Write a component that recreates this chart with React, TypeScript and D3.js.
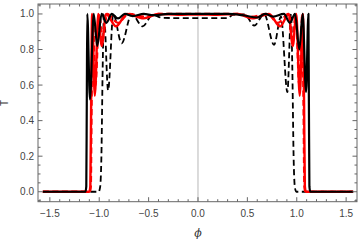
import React from 'react';
import * as d3 from 'd3';

type Pt = [number, number];

// black solid curve
const blackSolid: Pt[] = [
  [-1.571, 0], [-1.14, 0], [-1.131, 0.03], [-1.126, 0.5], [-1.121, 1.0], [-1.094, 0.52],
  [-1.056, 1.0], [-1.02, 0.82], [-0.976, 1.0], [-0.928, 0.95], [-0.872, 1.0], [-0.81, 0.975],
  [-0.74, 1.0], [-0.66, 0.988], [-0.55, 1.0], [-0.45, 0.993], [-0.3, 1.0], [0, 1.0],
  [0.3, 1.0], [0.45, 0.993], [0.6, 0.98], [0.68, 1.0], [0.76, 0.985], [0.87, 1.0],
  [0.93, 0.95], [0.983, 1.0], [1.026, 0.8], [1.06, 1.0], [1.094, 0.56], [1.118, 1.0],
  [1.123, 0.5], [1.128, 0.03], [1.137, 0], [1.571, 0],
];

// black dashed curve
const blackDashed: Pt[] = [
  [-1.571, 0], [-1.005, 0], [-0.99, 0.03], [-0.978, 0.2], [-0.965, 0.7], [-0.952, 1.0],
  [-0.91, 0.57], [-0.858, 1.0], [-0.773, 0.835], [-0.672, 1.0], [-0.56, 0.93], [-0.46, 0.995],
  [-0.36, 0.978], [0, 0.976], [0.3, 0.976], [0.35, 0.995], [0.47, 0.998], [0.57, 0.935],
  [0.67, 1.0], [0.77, 0.826], [0.84, 0.985], [0.905, 0.56], [0.942, 1.0], [0.955, 0.7],
  [0.968, 0.2], [0.98, 0.03], [0.995, 0], [1.571, 0],
];

// red solid curve
const redSolid: Pt[] = [
  [-1.571, 0], [-1.1, 0], [-1.09, 0.03], [-1.082, 0.5], [-1.072, 1.0], [-1.045, 0.54],
  [-1.01, 1.0], [-0.975, 0.82], [-0.93, 1.0], [-0.83, 0.93], [-0.72, 1.0], [-0.55, 0.975],
  [-0.4, 1.0], [-0.2, 0.995], [0, 0.997], [0.2, 0.995], [0.4, 1.0], [0.55, 0.975],
  [0.72, 1.0], [0.83, 0.93], [0.92, 1.0], [0.96, 0.82], [0.995, 1.0], [1.03, 0.54],
  [1.062, 1.0], [1.074, 0.5], [1.082, 0.03], [1.092, 0], [1.571, 0],
];

// red dashed curve
const redDashed: Pt[] = [
  [-1.571, 0], [-1.095, 0], [-1.085, 0.03], [-1.077, 0.5], [-1.066, 1.0], [-1.038, 0.6],
  [-1.0, 1.0], [-0.965, 0.86], [-0.92, 1.0], [-0.81, 0.95], [-0.7, 1.0], [-0.54, 0.985],
  [-0.4, 1.0], [0, 1.0], [0.4, 1.0], [0.54, 0.985], [0.7, 1.0], [0.81, 0.95],
  [0.915, 1.0], [0.955, 0.86], [0.99, 1.0], [1.025, 0.6], [1.056, 1.0], [1.068, 0.5],
  [1.077, 0.03], [1.087, 0], [1.571, 0],
];

const xMajor = [-1.5, -1.0, -0.5, 0.0, 0.5, 1.0, 1.5];
const yMajor = [0.0, 0.2, 0.4, 0.6, 0.8, 1.0];

const W = 363;
const H = 240;
const left = 38, right = 357, top = 4, bottom = 201.7;

const App = () => {
  const x = d3.scaleLinear().domain([-1.62, 1.61]).range([left, right]);
  const y = d3.scaleLinear().domain([-0.056, 1.056]).range([bottom, top]);

  const line = d3.line<Pt>()
    .x(d => x(d[0]))
    .y(d => y(d[1]))
    .curve(d3.curveMonotoneX);

  const xMinor = d3.range(-16, 17).map(i => i / 10).filter(v => v >= -1.62 && v <= 1.61);
  const yMinor = d3.range(-1, 22).map(i => i * 0.05).filter(v => v >= -0.056 && v <= 1.056);

  const frame = '#666';
  const font = "'Liberation Sans', Arial, sans-serif";

  return (
    <svg width={W} height={H} style={{ position: 'fixed', left: 0, top: 0, background: '#fff' }}>
      {/* zero gridline */}
      <line x1={x(0)} x2={x(0)} y1={top} y2={bottom} stroke="#b8b8b8" strokeWidth={1} />

      {/* curves */}
      <path d={line(blackDashed) || ''} fill="none" stroke="#000" strokeWidth={1.8} strokeDasharray="6,3.5" />
      <path d={line(redSolid) || ''} fill="none" stroke="#f00" strokeWidth={2.4} strokeLinejoin="round" />
      <path d={line(redDashed) || ''} fill="none" stroke="#f00" strokeWidth={2.2} strokeDasharray="6,3.5" />
      <path d={line(blackSolid) || ''} fill="none" stroke="#000" strokeWidth={2.2} strokeLinejoin="round" />

      {/* frame */}
      <rect x={left} y={top} width={right - left} height={bottom - top} fill="none" stroke={frame} strokeWidth={1} />

      {/* x ticks */}
      {xMinor.map(v => {
        const major = xMajor.some(m => Math.abs(m - v) < 1e-6);
        const len = major ? 4.5 : 2.5;
        return (
          <g key={'xt' + v}>
            <line x1={x(v)} x2={x(v)} y1={bottom} y2={bottom - len} stroke={frame} />
            <line x1={x(v)} x2={x(v)} y1={top} y2={top + len} stroke={frame} />
          </g>
        );
      })}
      {/* y ticks */}
      {yMinor.map(v => {
        const major = yMajor.some(m => Math.abs(m - v) < 1e-6);
        const len = major ? 4.5 : 2.5;
        return (
          <g key={'yt' + v}>
            <line x1={left} x2={left + len} y1={y(v)} y2={y(v)} stroke={frame} />
            <line x1={right} x2={right - len} y1={y(v)} y2={y(v)} stroke={frame} />
          </g>
        );
      })}

      {/* tick labels */}
      {xMajor.map(v => (
        <text key={'xl' + v} x={x(v)} y={bottom + 15.5} textAnchor="middle"
          fontFamily={font} fontSize={10} fill="#444">
          {v < 0 ? '\u2212' + Math.abs(v).toFixed(1) : v.toFixed(1)}
        </text>
      ))}
      {yMajor.map(v => (
        <text key={'yl' + v} x={left - 4} y={y(v)} dy="0.35em" textAnchor="end"
          fontFamily={font} fontSize={10} fill="#444">
          {v.toFixed(1)}
        </text>
      ))}

      {/* axis labels */}
      <text x={8.5} y={(top + bottom) / 2} textAnchor="middle" fontFamily={font} fontSize={10} fill="#333"
        transform={`rotate(-90, 8.5, ${(top + bottom) / 2})`}>T</text>
      <text x={x(0)} y={237} textAnchor="middle" fontFamily="'DejaVu Serif', serif" fontSize={11} fontStyle="italic" fill="#333">ϕ</text>
    </svg>
  );
};

export default App;
